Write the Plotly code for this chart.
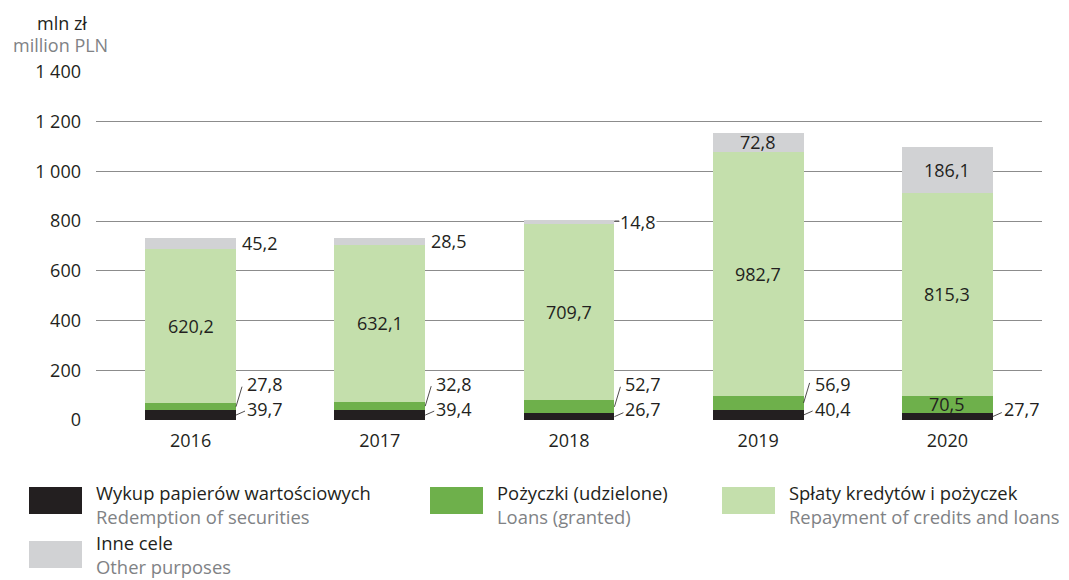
import plotly.graph_objects as go

# --- data (mln zł) ---
years = ["2016", "2017", "2018", "2019", "2020"]
securities = [39.7, 39.4, 26.7, 40.4, 27.7]      # Wykup papierów wartościowych
loans = [27.8, 32.8, 52.7, 56.9, 70.5]           # Pożyczki (udzielone)
repayment = [620.2, 632.1, 709.7, 982.7, 815.3]  # Spłaty kredytów i pożyczek
other = [45.2, 28.5, 14.8, 72.8, 186.1]          # Inne cele

y_ticks = [0, 200, 400, 600, 800, 1000, 1200, 1400]
y_tick_text = ["0", "200", "400", "600", "800", "1 000", "1 200", "1 400"]

legend_pl = ["Wykup papierów wartościowych", "Pożyczki (udzielone)",
             "Spłaty kredytów i pożyczek", "Inne cele"]
legend_en = ["Redemption of securities", "Loans (granted)",
             "Repayment of credits and loans", "Other purposes"]

# --- styling ---
C_SEC = "#231f20"
C_LOAN = "#6eb04b"
C_REP = "#c4dfac"
C_OTH = "#d1d2d4"
TXT = "#231f20"
GREY_TXT = "#808285"
FONT = "Open Sans"
FS = 18
FS_LEG = 18.4

W, H = 1069, 580
L, R, T, B = 96, 27, 72, 160
PW, PH = W - L - R, H - T - B
BAR_W = 0.48
EDGE = BAR_W / 2

x = list(range(len(years)))


def fmt(v):
    return f"{v:.1f}".replace(".", ",")


fig = go.Figure()
for vals, col, name in [(securities, C_SEC, legend_pl[0]), (loans, C_LOAN, legend_pl[1]),
                        (repayment, C_REP, legend_pl[2]), (other, C_OTH, legend_pl[3])]:
    fig.add_trace(go.Bar(x=x, y=vals, marker=dict(color=col, line=dict(width=0)),
                         width=BAR_W, name=name, showlegend=False, hoverinfo="skip"))

annotations = []
shapes = []


def text_at(xv, yv, s, xshift=0, yshift=0, xanchor="center"):
    annotations.append(dict(x=xv, y=yv, xref="x", yref="y", text=s, showarrow=False,
                            xanchor=xanchor, yanchor="middle", xshift=xshift, yshift=yshift,
                            font=dict(family=FONT, size=FS, color=TXT),
                            bgcolor="white" if xanchor == "left" else None, borderpad=0))


def leader(xv, yv, x0, y0, x1, y1):
    shapes.append(dict(type="line", xref="x", yref="y", xsizemode="pixel", ysizemode="pixel",
                       xanchor=xv, yanchor=yv, x0=x0, y0=y0, x1=x1, y1=y1,
                       line=dict(color=TXT, width=0.8), layer="above"))


for i in x:
    s, lo, rp, ot = securities[i], loans[i], repayment[i], other[i]
    edge = i + EDGE
    # repayment: always inside
    text_at(i, s + lo + rp / 2, fmt(rp))
    # other purposes
    if ot > 60:
        text_at(i, s + lo + rp + ot / 2, fmt(ot))
    else:
        text_at(edge, s + lo + rp + ot / 2, fmt(ot), xshift=5, xanchor="left")
        if ot < 20:
            leader(edge, s + lo + rp + ot / 2, 0, 1, 5, 1)
    # loans
    if lo > 60:
        text_at(i, s + lo / 2, fmt(lo))
    else:
        text_at(edge, 0, fmt(lo), xshift=10, yshift=36, xanchor="left")
        leader(edge, s + lo / 2, 0, 0, 6, 20)
    # securities: always outside
    text_at(edge, 0, fmt(s), xshift=10, yshift=11, xanchor="left")
    leader(edge, s / 2, 0, 0, 9, 4)

# unit labels above the value axis
annotations.append(dict(x=0, y=1, xref="paper", yref="paper", xshift=-34, yshift=49,
                        text="mln zł", showarrow=False, xanchor="center", yanchor="middle",
                        font=dict(family=FONT, size=FS, color=TXT)))
annotations.append(dict(x=0, y=1, xref="paper", yref="paper", xshift=-36, yshift=27,
                        text="million PLN", showarrow=False, xanchor="center", yanchor="middle",
                        font=dict(family=FONT, size=FS, color=GREY_TXT)))


# legend drawn as swatches + two-line captions (pixel layout)
def px_x(p):
    return (p - L) / PW


def px_y(p):
    return (H - B - p) / PH


legend_cols = [C_SEC, C_LOAN, C_REP, C_OTH]
legend_pos = [(29, 487), (430, 487), (722, 487), (29, 541)]  # swatch top-left
for k in range(4):
    sx, sy = legend_pos[k]
    shapes.append(dict(type="rect", xref="paper", yref="paper",
                       x0=px_x(sx), x1=px_x(sx + 53), y0=px_y(sy), y1=px_y(sy + 27),
                       fillcolor=legend_cols[k], line=dict(width=0)))
    caption = f"{legend_pl[k]}<br><span style='color:{GREY_TXT}'>{legend_en[k]}</span>"
    cy = min(sy + 17, 554)
    annotations.append(dict(x=px_x(sx + 66), y=px_y(cy), xref="paper", yref="paper",
                            text=caption, showarrow=False, xanchor="left", yanchor="middle",
                            align="left", borderpad=0,
                            font=dict(family=FONT, size=FS_LEG, color=TXT)))

fig.update_layout(
    width=W, height=H,
    margin=dict(l=L, r=R, t=T, b=B, pad=0),
    barmode="stack",
    plot_bgcolor="white", paper_bgcolor="white",
    font=dict(family=FONT, size=FS, color=TXT),
    showlegend=False,
    xaxis=dict(range=[-0.5, len(years) - 0.5], tickvals=x, ticktext=years,
               showgrid=False, zeroline=False, showline=False, ticks="",
               ticklabelstandoff=8, tickfont=dict(family=FONT, size=FS, color=TXT),
               fixedrange=True),
    yaxis=dict(range=[0, 1400], tickvals=y_ticks, ticktext=y_tick_text,
               showgrid=True, gridcolor="#8c8c8c", gridwidth=1,
               zeroline=False, showline=False, ticks="",
               ticklabelstandoff=14, tickfont=dict(family=FONT, size=FS, color=TXT),
               fixedrange=True, layer="below traces"),
    annotations=annotations,
    shapes=shapes,
)

fig.write_html("out.html", config={"displayModeBar": False})
